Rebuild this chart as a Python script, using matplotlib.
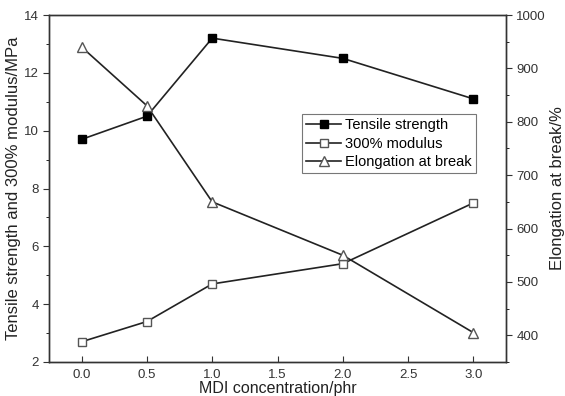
import matplotlib
matplotlib.use("Agg")
import matplotlib.pyplot as plt
from matplotlib.ticker import MultipleLocator

plt.rcParams['font.family'] = ['Liberation Sans', 'DejaVu Sans']

mdl = [0.0, 0.5, 1.0, 2.0, 3.0]
tensile = [9.7, 10.5, 13.2, 12.5, 11.1]
modulus = [2.7, 3.4, 4.7, 5.4, 7.5]
elongation = [940, 830, 650, 550, 405]

fig = plt.figure(figsize=(5.65, 3.96), dpi=100)
ax = fig.add_axes([49 / 565, 34 / 396, 457 / 565, 347 / 396])
ax2 = ax.twinx()

lc = '#222222'
l1, = ax.plot(mdl, tensile, '-s', color=lc, lw=1.2, ms=6, mfc='black', mec='black', label='Tensile strength')
l2, = ax.plot(mdl, modulus, '-s', color=lc, lw=1.2, ms=6, mfc='white', mec='#555555', label='300% modulus')
l3, = ax2.plot(mdl, elongation, '-^', color=lc, lw=1.2, ms=7, mfc='white', mec='#555555', label='Elongation at break')

ax.set_xlim(-0.25, 3.25)
ax.set_ylim(2, 14)
ax2.set_ylim(350, 1000)
ax.set_xticks([0.0, 0.5, 1.0, 1.5, 2.0, 2.5, 3.0])
ax.set_xticklabels(['0.0', '0.5', '1.0', '1.5', '2.0', '2.5', '3.0'])
ax.yaxis.set_major_locator(MultipleLocator(2))
ax.yaxis.set_minor_locator(MultipleLocator(1))
ax2.yaxis.set_major_locator(MultipleLocator(100))
ax2.yaxis.set_minor_locator(MultipleLocator(50))

ax.tick_params(axis='x', direction='in', labelsize=9.5, colors='#333333', length=4, pad=5)
ax.tick_params(axis='y', which='major', direction='out', labelsize=9.5, colors='#333333', length=4)
ax.tick_params(axis='y', which='minor', direction='out', length=2.5)
ax2.tick_params(axis='y', which='major', direction='out', labelsize=9.5, colors='#333333', length=4)
ax2.tick_params(axis='y', which='minor', direction='out', length=2.5)

for a in (ax, ax2):
    for s in a.spines.values():
        s.set_color('#333333')
        s.set_linewidth(1.0)

ax.set_xlabel('MDI concentration/phr', fontsize=11.5, color='#222222', labelpad=0)
ax.set_ylabel('Tensile strength and 300% modulus/MPa', fontsize=12, color='#222222', labelpad=2)
ax2.set_ylabel('Elongation at break/%', fontsize=12, color='#222222', labelpad=3)

leg = ax.legend(handles=[l1, l2, l3], loc='upper left', bbox_to_anchor=(0.553, 0.715),
                fontsize=10.5, frameon=True, fancybox=False, edgecolor='#555555',
                handlelength=2.4, handletextpad=0.3, borderpad=0.3, labelspacing=0.3,
                borderaxespad=0)
leg.get_frame().set_linewidth(0.8)

fig.savefig('out.png', dpi=100)
